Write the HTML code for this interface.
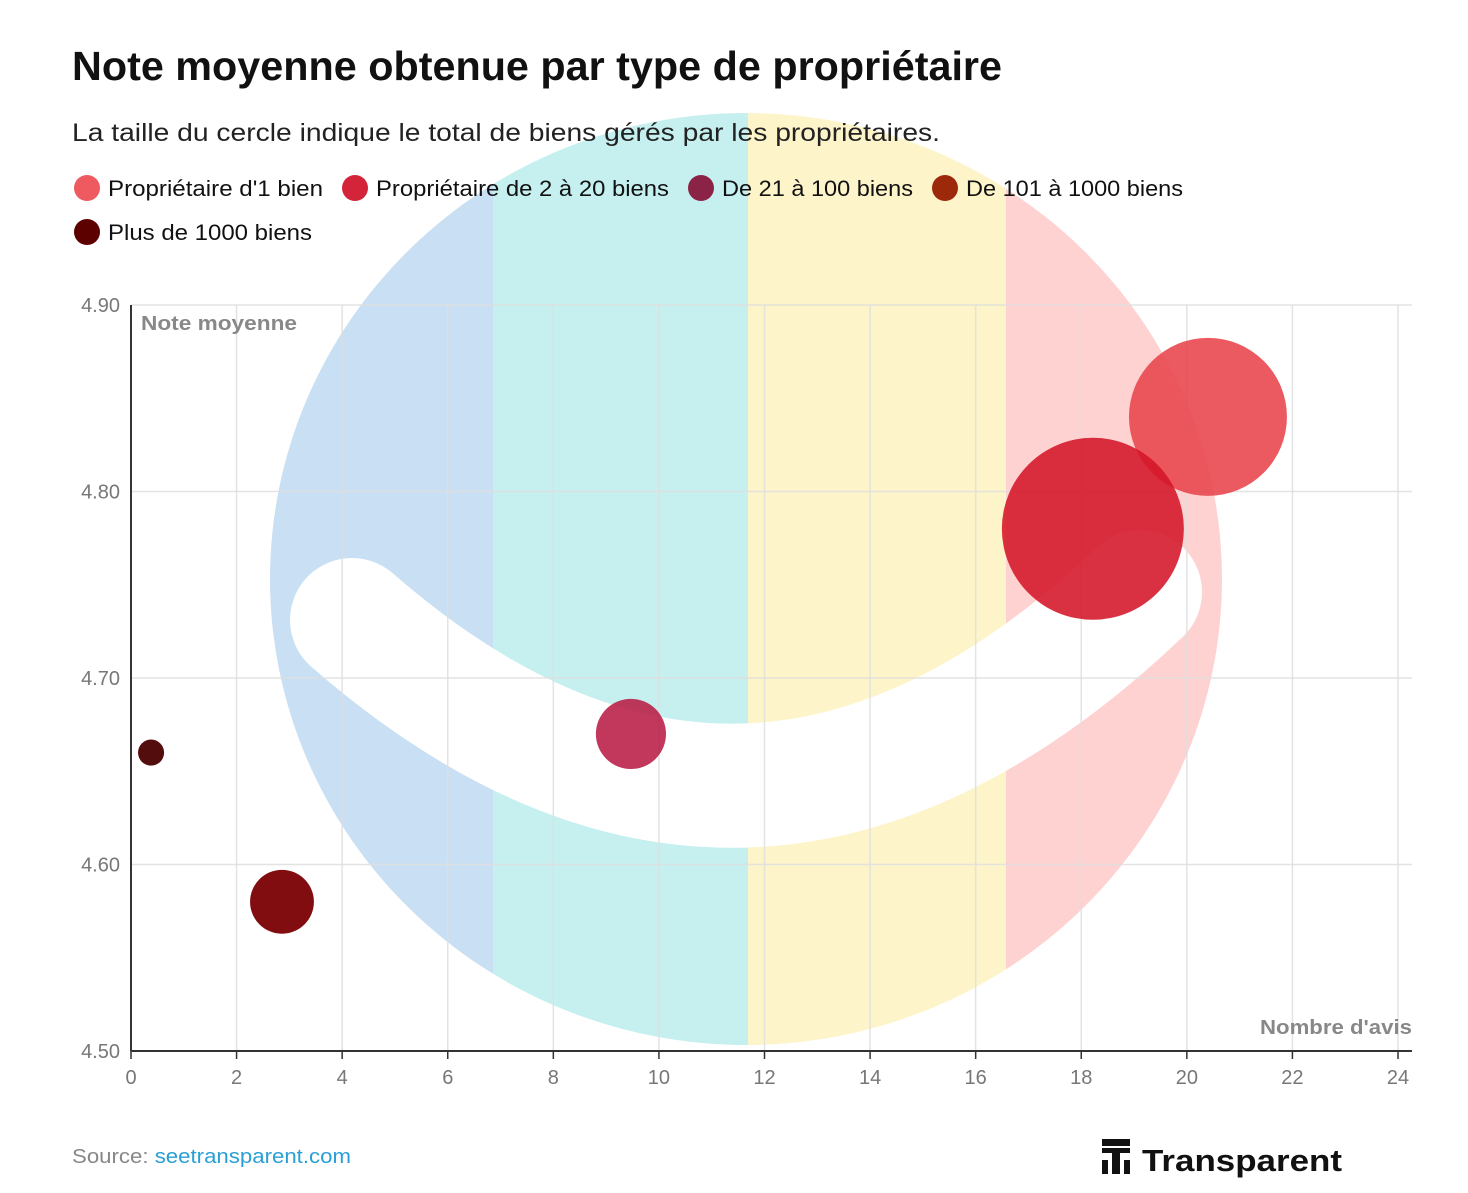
<!DOCTYPE html>
<html><head><meta charset="utf-8">
<style>
html,body{margin:0;padding:0;background:#fff;}
body{width:1468px;height:1188px;overflow:hidden;font-family:"Liberation Sans",sans-serif;}
svg text{font-family:"Liberation Sans",sans-serif;}
</style></head>
<body>
<svg id="chart" width="1468" height="1188" viewBox="0 0 1468 1188" xmlns="http://www.w3.org/2000/svg">
  <defs>
    <clipPath id="logoClip"><ellipse cx="746" cy="579" rx="476" ry="466"/></clipPath>
  </defs>
  <g clip-path="url(#logoClip)">
    <rect x="260" y="100" width="233" height="960" fill="#c9dff3"/>
    <rect x="493" y="100" width="255" height="960" fill="#c6f0ef"/>
    <rect x="748" y="100" width="258" height="960" fill="#fdf4c9"/>
    <rect x="1006" y="100" width="230" height="960" fill="#ffd2d2"/>
  </g>
  <path d="M 352 620 Q 748 965 1140 592" stroke="#fff" stroke-width="124" stroke-linecap="round" fill="none"/>
  <g id="grid"></g>
  <g id="bubbles"></g>
  <g id="axes"></g>

  <text x="72" y="80" font-size="41" font-weight="bold" fill="#111" textLength="930" lengthAdjust="spacingAndGlyphs">Note moyenne obtenue par type de propriétaire</text>
  <text x="72" y="141" font-size="25" fill="#222" textLength="868" lengthAdjust="spacingAndGlyphs">La taille du cercle indique le total de biens gérés par les propriétaires.</text>
  <g id="legend"></g>

  <text x="72" y="1163" font-size="20" fill="#888" textLength="279" lengthAdjust="spacingAndGlyphs">Source: <tspan fill="#2a9fd6">seetransparent.com</tspan></text>
  <g>
    <rect x="1102" y="1139" width="28" height="7" fill="#111"/>
    <rect x="1102" y="1148" width="28" height="5" fill="#111"/>
    <rect x="1112" y="1153" width="8" height="21" fill="#111"/>
    <rect x="1102" y="1160" width="6" height="14" fill="#111"/>
    <rect x="1124" y="1160" width="6" height="14" fill="#111"/>
    <text x="1142" y="1171" font-size="31" font-weight="bold" fill="#111" textLength="200" lengthAdjust="spacingAndGlyphs">Transparent</text>
  </g>
</svg>
<script>
const categories = ["Propriétaire d'1 bien","Propriétaire de 2 à 20 biens","De 21 à 100 biens","De 101 à 1000 biens","Plus de 1000 biens"];
const avisValues = [20.4, 18.22, 9.47, 2.86, 0.38];
const noteValues = [4.84, 4.78, 4.67, 4.58, 4.66];
const sizeValues = [62.4, 82.8, 12.3, 10.2, 1.7];
const colors = ["#e8434b","#d41427","#b81c45","#7a0004","#4a0000"];
const legendColors = ["#ee5a5f","#d3243a","#8b2346","#9c2a0a","#5c0000"];
const xTicks = [0,2,4,6,8,10,12,14,16,18,20,22,24];
const yTicks = [4.5,4.6,4.7,4.8,4.9];
const yTickLabels = ["4.50","4.60","4.70","4.80","4.90"];

const NS="http://www.w3.org/2000/svg";
const X0=131,X1=1398,Y0=1051,Y1=305,RIGHT=1412;
const xs=v=>X0+(v-0)/(24-0)*(X1-X0);
const ys=v=>Y0-(v-4.5)/(4.9-4.5)*(Y0-Y1);
const rs=v=>10*Math.sqrt(v);
function mk(tag,attrs,parent){const e=document.createElementNS(NS,tag);for(const k in attrs)e.setAttribute(k,attrs[k]);parent.appendChild(e);return e;}

const grid=document.getElementById('grid');
xTicks.forEach(t=>{
  if(t===0)return;
  const l=mk('line',{x1:xs(t),x2:xs(t),y1:Y1,y2:Y0,stroke:'#dedede','stroke-width':1.5,'stroke-opacity':0.85},grid);
  
  
});
yTicks.forEach(t=>{
  if(t===4.5)return;
  const l=mk('line',{x1:X0,x2:RIGHT,y1:ys(t),y2:ys(t),stroke:'#dedede','stroke-width':1.5,'stroke-opacity':0.85},grid);
  
  
});

const bub=document.getElementById('bubbles');
avisValues.forEach((v,i)=>{
  const c=mk('circle',{cx:xs(v),cy:ys(noteValues[i]),r:rs(sizeValues[i]),fill:colors[i],'fill-opacity':(i>=3?0.95:0.88)},bub);
  
  
});

const ax=document.getElementById('axes');
const ya=mk('line',{x1:X0,x2:X0,y1:Y1,y2:Y0,stroke:'#333','stroke-width':2},ax);


const xa=mk('line',{x1:X0,x2:RIGHT,y1:Y0,y2:Y0,stroke:'#333','stroke-width':2},ax);


xTicks.forEach(t=>{
  const tk=mk('line',{x1:xs(t),x2:xs(t),y1:Y0,y2:Y0+8,stroke:'#333','stroke-width':1.5},ax);
  
  
  const tx=mk('text',{x:xs(t),y:Y0+33,'text-anchor':'middle','font-size':20,fill:'#777'},ax);
  tx.textContent=t;
  
  
});
yTicks.forEach((t,i)=>{
  const tx=mk('text',{x:120,y:ys(t)+7,'text-anchor':'end','font-size':20,fill:'#777'},ax);
  tx.textContent=yTickLabels[i];
  
  
});
const yt=mk('text',{x:141,y:330,'font-size':20,'font-weight':'bold',fill:'#888',textLength:156,lengthAdjust:'spacingAndGlyphs'},ax);
yt.textContent='Note moyenne';


const xt=mk('text',{x:1260,y:1034,'font-size':20,'font-weight':'bold',fill:'#888',textLength:152,lengthAdjust:'spacingAndGlyphs'},ax);
xt.textContent="Nombre d'avis";



const lg=document.getElementById('legend');
const lpos=[[87,188],[355,188],[701,188],[945,188],[87,232]];
const lwid=[215,293,191,217,204];
categories.forEach((c,i)=>{
  const g=mk('g',{},lg);
  
  
  mk('circle',{cx:lpos[i][0],cy:lpos[i][1],r:13,fill:legendColors[i]},g);
  const t=mk('text',{x:lpos[i][0]+21,y:lpos[i][1]+8,'font-size':22,fill:'#111',textLength:lwid[i],lengthAdjust:'spacingAndGlyphs'},g);
  t.textContent=c;
});
</script>
</body></html>
